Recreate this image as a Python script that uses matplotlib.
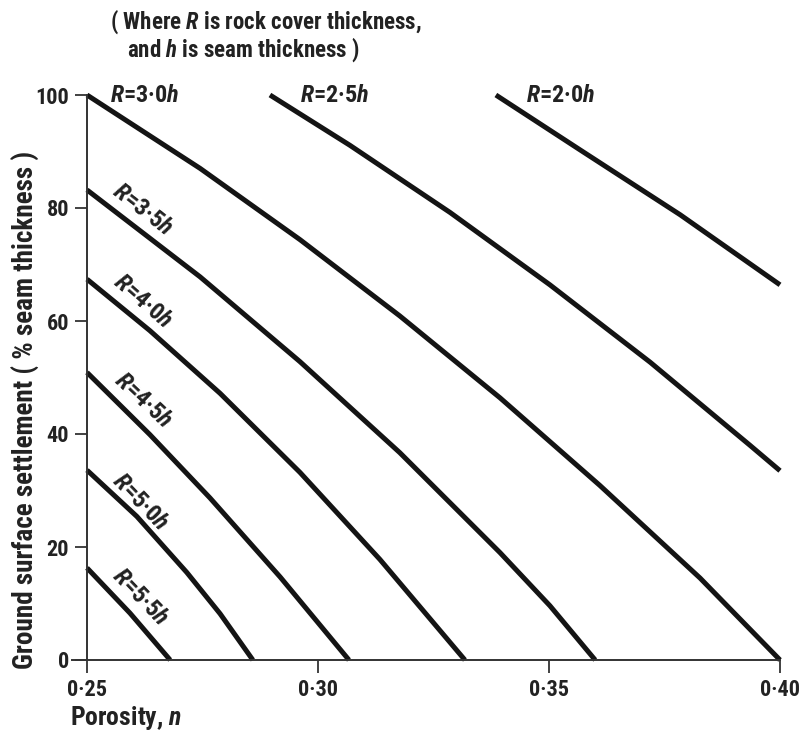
import matplotlib
matplotlib.use("Agg")
import matplotlib.pyplot as plt
from matplotlib import font_manager as fm

# ---------------- data ----------------
labels = ["R=2·0h", "R=2·5h", "R=3·0h", "R=3·5h", "R=4·0h", "R=4·5h", "R=5·0h", "R=5·5h"]

x_r20 = [0.3385, 0.3567, 0.3784, 0.4000]
y_r20 = [100.0, 90.3, 78.8, 66.4]

x_r25 = [0.2896, 0.3069, 0.3286, 0.3502, 0.3719, 0.3935, 0.4000]
y_r25 = [100.0, 91.1, 79.2, 66.4, 52.7, 38.0, 33.5]

x_r30 = [0.2500, 0.2745, 0.2961, 0.3177, 0.3394, 0.3610, 0.3827, 0.4000]
y_r30 = [100.0, 87.0, 74.4, 60.9, 46.4, 30.9, 14.5, 0.0]

x_r35 = [0.2500, 0.2745, 0.2961, 0.3177, 0.3394, 0.3502, 0.3600]
y_r35 = [83.2, 67.8, 52.8, 36.7, 19.0, 9.6, 0.0]

x_r40 = [0.2500, 0.2636, 0.2788, 0.2961, 0.3134, 0.3318]
y_r40 = [67.4, 58.3, 47.2, 33.2, 17.8, 0.0]

x_r45 = [0.2500, 0.2636, 0.2766, 0.2918, 0.3067]
y_r45 = [50.9, 39.9, 28.7, 14.7, 0.0]

x_r50 = [0.2500, 0.2608, 0.2716, 0.2788, 0.2859]
y_r50 = [33.6, 25.4, 15.5, 8.2, 0.0]

x_r55 = [0.2500, 0.2593, 0.2680]
y_r55 = [16.3, 8.3, 0.0]

xticks = [0.25, 0.30, 0.35, 0.40]
xtick_labels = ["0·25", "0·30", "0·35", "0·40"]
yticks = [0, 20, 40, 60, 80, 100]
ytick_labels = ["0", "20", "40", "60", "80", "100"]

# ---------------- fonts ----------------
names = {f.name for f in fm.fontManager.ttflist}
if "Roboto Condensed" in names:
    FAM, STRETCH = "Roboto Condensed", "normal"
elif "Liberation Sans Narrow" in names:
    FAM, STRETCH = "Liberation Sans Narrow", "normal"
else:
    FAM, STRETCH = "DejaVu Sans", "condensed"
WEIGHT = "bold"

plt.rcParams["font.family"] = [FAM, "DejaVu Sans"]
plt.rcParams["font.stretch"] = STRETCH
plt.rcParams["font.weight"] = WEIGHT
plt.rcParams["axes.labelweight"] = WEIGHT
plt.rcParams["mathtext.fontset"] = "custom"
cond = ":condensed" if STRETCH == "condensed" else ""
plt.rcParams["mathtext.it"] = FAM + ":italic:bold" + cond
plt.rcParams["mathtext.rm"] = FAM + ":bold" + cond
plt.rcParams["mathtext.bf"] = FAM + ":bold" + cond

TXT = "#222222"
LINE = "#141414"

fig = plt.figure(figsize=(8.06, 7.33), dpi=100)
ax = fig.add_axes([87 / 806, 1 - 660 / 733, (780 - 87) / 806, (660 - 95) / 733])

series = [(x_r20, y_r20), (x_r25, y_r25), (x_r30, y_r30), (x_r35, y_r35),
          (x_r40, y_r40), (x_r45, y_r45), (x_r50, y_r50), (x_r55, y_r55)]
for xs, ys in series:
    ax.plot(xs, ys, color=LINE, lw=3.6, solid_capstyle="butt",
            solid_joinstyle="round", clip_on=False)

ax.set_xlim(0.25, 0.40)
ax.set_ylim(0, 100)

for s in ["top", "right"]:
    ax.spines[s].set_visible(False)
for s in ["left", "bottom"]:
    ax.spines[s].set_linewidth(1.4)
    ax.spines[s].set_color("#333333")
ax.spines["bottom"].set_bounds(0.2468, 0.40)

ax.set_xticks(xticks)
ax.set_xticklabels(xtick_labels)
ax.set_yticks(yticks)
ax.set_yticklabels(ytick_labels)
ax.tick_params(axis="both", direction="out", colors="#333333", width=1.3,
               labelcolor=TXT, labelsize=16)
ax.tick_params(axis="y", length=9, pad=4)
ax.tick_params(axis="x", length=9, pad=5)

ax.set_ylabel("Ground surface settlement ( % seam thickness )", fontsize=19.5,
              color=TXT)
ax.yaxis.set_label_coords(-0.068, 0.442)
ax.text(-0.024, -0.103, "Porosity, $n$", transform=ax.transAxes, fontsize=18.5,
        color=TXT, ha="left", va="center")

# title note
fig.text(110 / 806, 1 - 22 / 733, "( Where $R$ is rock cover thickness,",
         fontsize=16.5, color=TXT, ha="left", va="center")
fig.text(127 / 806, 1 - 50 / 733, "and $h$ is seam thickness )",
         fontsize=16.5, color=TXT, ha="left", va="center")

# curve labels
def lab(s):
    return "$R$" + s[1:-1] + "$h$"

lab_pos = {
    "R=3·0h": (110, 95, 0),
    "R=2·5h": (300, 95, 0),
    "R=2·0h": (526, 96, 0),
}
for key, (px, py, rot) in lab_pos.items():
    fig.text(px / 806, 1 - py / 733, lab(key), fontsize=17.5, color=TXT,
             ha="left", va="center", rotation=rot)

rot_pos = {
    "R=3·5h": (143, 210, -38),
    "R=4·0h": (143, 301, -41),
    "R=4·5h": (143, 400, -43),
    "R=5·0h": (140, 502, -46),
    "R=5·5h": (140, 597, -46),
}
for key, (px, py, rot) in rot_pos.items():
    fig.text(px / 806, 1 - py / 733, lab(key), fontsize=17.5, color=TXT,
             ha="center", va="center", rotation=rot, rotation_mode="anchor")

fig.savefig("out.png", dpi=100)
